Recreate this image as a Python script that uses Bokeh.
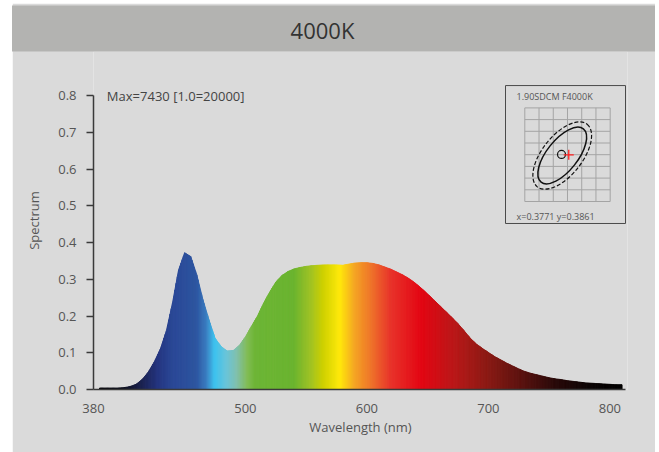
import numpy as np
from bokeh.plotting import figure
from bokeh.models import Range1d, Label, FixedTicker, PrintfTickFormatter
from bokeh.embed import file_html
from bokeh.resources import INLINE

# ---------------- data ----------------
title_text = "4000K"
wavelength = list(range(380, 815, 5))
spectrum = [
    0.004, 0.004, 0.004, 0.004, 0.005, 0.008, 0.014, 0.027, 0.047, 0.075,   # 380-425
    0.110, 0.160, 0.235, 0.325, 0.372, 0.362, 0.312, 0.245, 0.190, 0.140,   # 430-475
    0.117, 0.105, 0.106, 0.120, 0.143, 0.172, 0.200, 0.235, 0.265, 0.292,   # 480-525
    0.310, 0.321, 0.328, 0.332, 0.335, 0.337, 0.338, 0.339, 0.339, 0.339,   # 530-575
    0.338, 0.341, 0.344, 0.345, 0.345, 0.343, 0.339, 0.333, 0.327, 0.319,   # 580-625
    0.311, 0.301, 0.289, 0.275, 0.260, 0.244, 0.228, 0.212, 0.196, 0.179,   # 630-675
    0.160, 0.140, 0.124, 0.112, 0.101, 0.090, 0.081, 0.072, 0.064, 0.056,   # 680-725
    0.049, 0.044, 0.040, 0.036, 0.032, 0.029, 0.027, 0.024, 0.022, 0.020,   # 730-775
    0.018, 0.017, 0.016, 0.015, 0.014, 0.013, 0.013,                        # 780-810
]
x_tick_values = [375, 500, 600, 700, 800]
x_tick_labels = ["380", "500", "600", "700", "800"]
y_tick_values = [0.0, 0.1, 0.2, 0.3, 0.4, 0.5, 0.6, 0.7, 0.8]
max_note = "Max=7430  [1.0=20000]"
inset_title = "1.90SDCM F4000K"
inset_coords = "x=0.3771  y=0.3861"
# inset (grid units)
grid_cols = list(range(0, 7))
grid_rows = list(range(0, 9))
target_point = (2.58, 4.02)
measured_point = (3.09, 3.99)
ellipse_center = (2.63, 3.93)

# colour stops of the visible spectrum (style)
stop_nm = [375, 400, 415, 428, 440, 460, 468, 475, 485, 493, 502, 508, 540, 554,
           564, 578, 590, 605, 620, 645, 673, 700, 728, 755, 785, 815]
stop_hex = ["#000000", "#0d0f1e", "#1b2250", "#24347f", "#2a4796", "#2d55a0",
            "#3a7cc0", "#3dc3ef", "#6ac4d8", "#80c0ae", "#82bc55", "#6db536",
            "#6ab42f", "#9fc224", "#cdd000", "#ffe90a", "#f5a623", "#ee6f2a",
            "#e8332a", "#e30613", "#b81818", "#8a1a14", "#5a120f", "#2a0a0a",
            "#0a0404", "#000000"]

BG = "#dadada"
BAND = "#b3b3b1"
FONT = "Open Sans"
SLICES = 5  # colour slices drawn per measured interval (gradient rendering)


def wl_color(w):
    rgb = np.array([[int(h[i:i + 2], 16) for i in (1, 3, 5)] for h in stop_hex], float)
    c = [int(round(np.interp(w, stop_nm, rgb[:, k]))) for k in range(3)]
    return "#%02x%02x%02x" % tuple(c)


W, H = 643, 449
FRAME_TOP, FRAME_BOTTOM, PX_PER_UNIT = 51, 389, 367.5
y_top = (FRAME_BOTTOM - FRAME_TOP) / PX_PER_UNIT
p = figure(width=W, height=H, x_range=Range1d(375, 814.5), y_range=Range1d(0, y_top),
           output_backend="svg", toolbar_location=None,
           min_border_left=81, min_border_right=28, min_border_top=0, min_border_bottom=63)
p.margin = (3, 0, 0, 12)
p.background_fill_color = BG
p.border_fill_color = BG
p.outline_line_color = None
p.xgrid.visible = False
p.ygrid.visible = False

# title band
p.title.text = title_text
p.title.align = "center"
p.title.vertical_align = "bottom"
p.title.text_font = FONT
p.title.text_font_size = "22px"
p.title.text_font_style = "normal"
p.title.text_color = "#333333"
p.title.background_fill_color = BAND
p.title.padding = dict(left=662, right=738, top=9, bottom=7)
p.title.standoff = 0

# spectrum, coloured along the wavelength
xs, ys, cols = [], [], []
for i in range(len(wavelength) - 1):
    w0, w1 = wavelength[i], wavelength[i + 1]
    s0, s1 = spectrum[i], spectrum[i + 1]
    for k in range(SLICES):
        a, b = k / SLICES, (k + 1) / SLICES
        xa, xb = w0 + (w1 - w0) * a, w0 + (w1 - w0) * b
        ya, yb = s0 + (s1 - s0) * a, s0 + (s1 - s0) * b
        xs.append([xa, xa, xb, xb])
        ys.append([0, ya, yb, 0])
        cols.append(wl_color((xa + xb) / 2))
p.patches(xs, ys, fill_color=cols, line_color=cols, line_width=1.0)

# axes
for ax in (p.xaxis, p.yaxis):
    ax.axis_line_color = "#3a3a3a"
    ax.axis_line_width = 1.5
    ax.major_tick_line_color = "#3a3a3a"
    ax.major_tick_line_width = 1.5
    ax.minor_tick_line_color = None
    ax.major_label_text_font = FONT
    ax.major_label_text_font_size = "13px"
    ax.major_label_text_color = "#555555"
    ax.axis_label_text_font = FONT
    ax.axis_label_text_font_size = "13px"
    ax.axis_label_text_font_style = "normal"
    ax.axis_label_text_color = "#555555"

p.xaxis.ticker = FixedTicker(ticks=x_tick_values)
p.xaxis.major_label_overrides = {v: t for v, t in zip(x_tick_values, x_tick_labels)}
p.xaxis.major_tick_out = 0
p.xaxis.major_tick_in = 0
p.xaxis.major_label_standoff = 14
p.xaxis.axis_label = "Wavelength (nm)"
p.xaxis.axis_label_standoff = 2
p.xaxis.bounds = (375, 813)

p.yaxis.ticker = FixedTicker(ticks=y_tick_values)
p.yaxis.formatter = PrintfTickFormatter(format="%.1f")
p.yaxis.major_tick_out = 7
p.yaxis.major_tick_in = 0
p.yaxis.major_label_standoff = 10
p.yaxis.axis_label = "Spectrum"
p.yaxis.axis_label_standoff = 12
p.yaxis.bounds = (0, 0.8)

p.add_layout(Label(x=386, y=0.8, text=max_note, text_baseline="middle",
                   text_font=FONT, text_font_size="13px", text_color="#444444"))

# ---------------- chromaticity inset ----------------
gx0 = (93 - 524.3) / 14.23
gx1 = (627 - 524.3) / 14.23
gy0 = -(FRAME_BOTTOM - 201) / 11.7
gy1 = (201 - FRAME_TOP) / 11.7
p.extra_x_ranges = {"gx": Range1d(gx0, gx1)}
p.extra_y_ranges = {"gy": Range1d(gy0, gy1)}
R = dict(x_range_name="gx", y_range_name="gy")

p.quad(left=[-1.356], right=[7.077], bottom=[-1.88], top=[9.91],
       fill_color=BG, line_color="#4a4a4a", line_width=1, **R)
p.segment(x0=grid_cols, y0=[grid_rows[0]] * len(grid_cols),
          x1=grid_cols, y1=[grid_rows[-1]] * len(grid_cols),
          line_color="#a4a4a4", line_width=1, **R)
p.segment(x0=[grid_cols[0]] * len(grid_rows), y0=grid_rows,
          x1=[grid_cols[-1]] * len(grid_rows), y1=grid_rows,
          line_color="#a4a4a4", line_width=1, **R)
p.ellipse(x=[ellipse_center[0]], y=[ellipse_center[1]], width=80, height=40,
          width_units="screen", height_units="screen", angle=0.9,
          fill_color=None, line_color="#111111", line_width=1.2, line_dash="4 2", **R)
p.ellipse(x=[ellipse_center[0]], y=[ellipse_center[1]], width=68, height=31,
          width_units="screen", height_units="screen", angle=0.9,
          fill_color=None, line_color="#111111", line_width=1.5, **R)
p.scatter(x=[target_point[0]], y=[target_point[1]], marker="circle", size=8,
          fill_color=None, line_color="#111111", line_width=1.2, **R)
p.scatter(x=[measured_point[0]], y=[measured_point[1]], marker="cross", size=10,
          line_color="#ff2020", line_width=1.3, **R)
p.add_layout(Label(x=-0.58, y=8.97, text=inset_title, text_baseline="middle",
                   text_font=FONT, text_font_size="9px", text_color="#555555", **R))
p.add_layout(Label(x=-0.58, y=-1.28, text=inset_coords, text_baseline="middle",
                   text_font=FONT, text_font_size="9px", text_color="#555555", **R))

open("out.html", "w").write(file_html(p, INLINE))
